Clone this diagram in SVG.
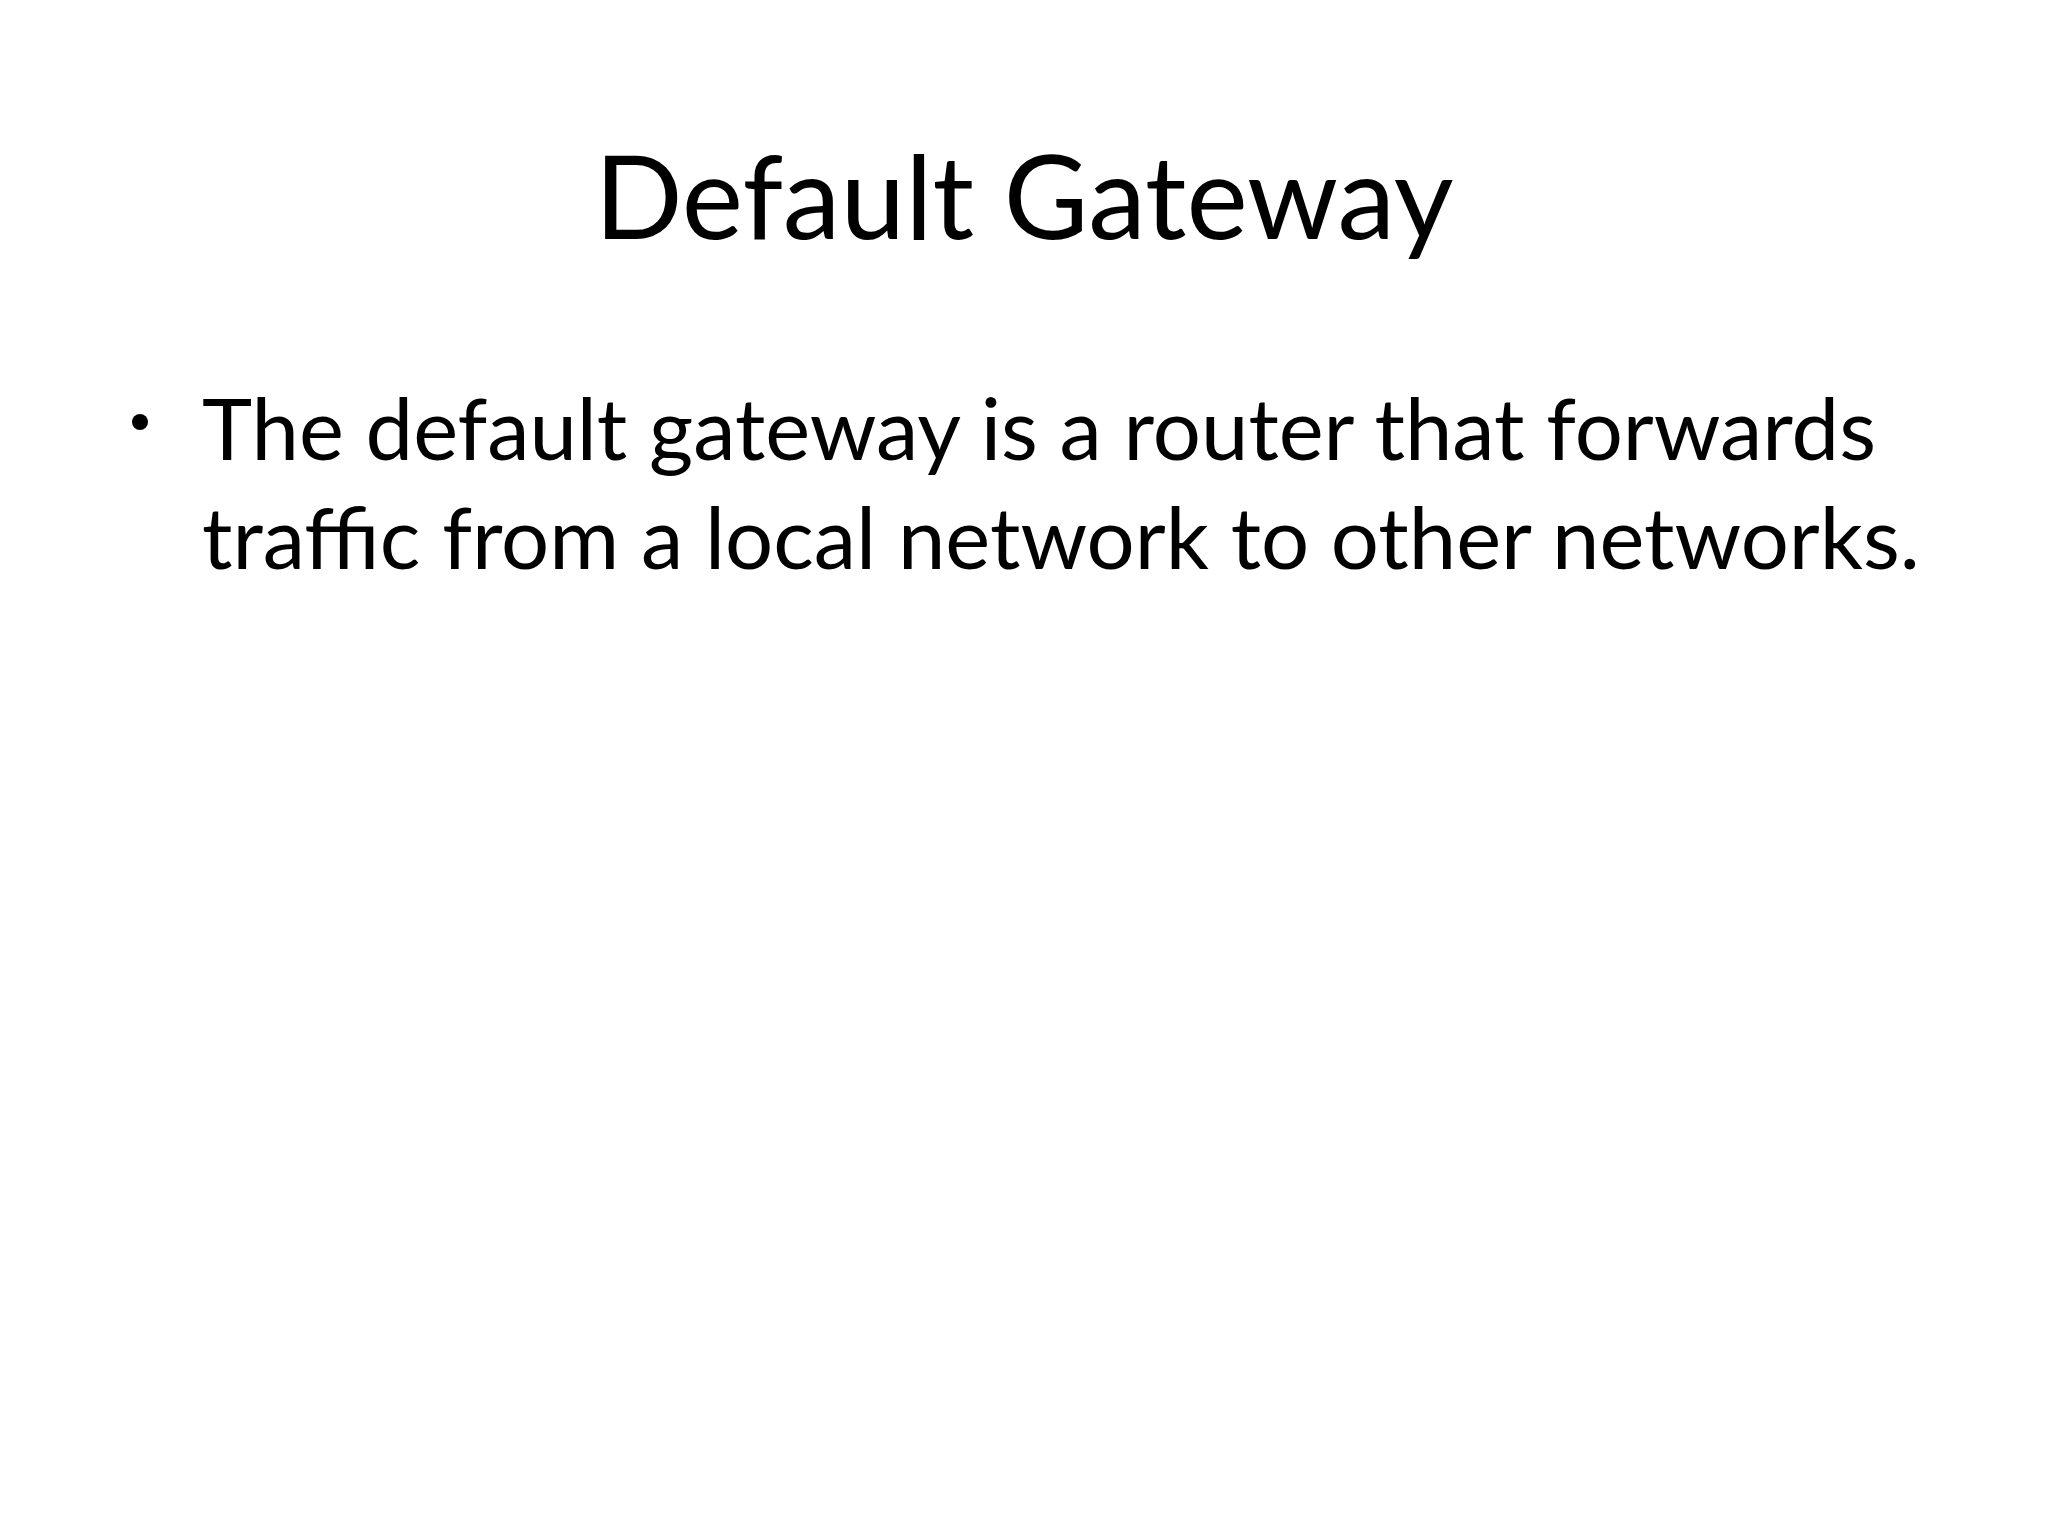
<svg xmlns="http://www.w3.org/2000/svg" width="2048" height="1536" viewBox="0 0 2048 1536">
<style>
.t{font-family:Lato,Carlito,"Liberation Sans",sans-serif;fill:#000}
</style>
<rect width="2048" height="1536" fill="#fff"/>
<g id="title"><text class="t" x="1024" y="239" font-size="116" text-anchor="middle">Default Gateway</text></g>
<g id="body">
<circle cx="140" cy="422" r="8" fill="#000"/>
<text class="t" x="202" y="460" font-size="85">The default gateway is a router that forwards</text>
<text class="t" x="202" y="569" font-size="85">traffic from a local network to other networks.</text>
</g>
</svg>
